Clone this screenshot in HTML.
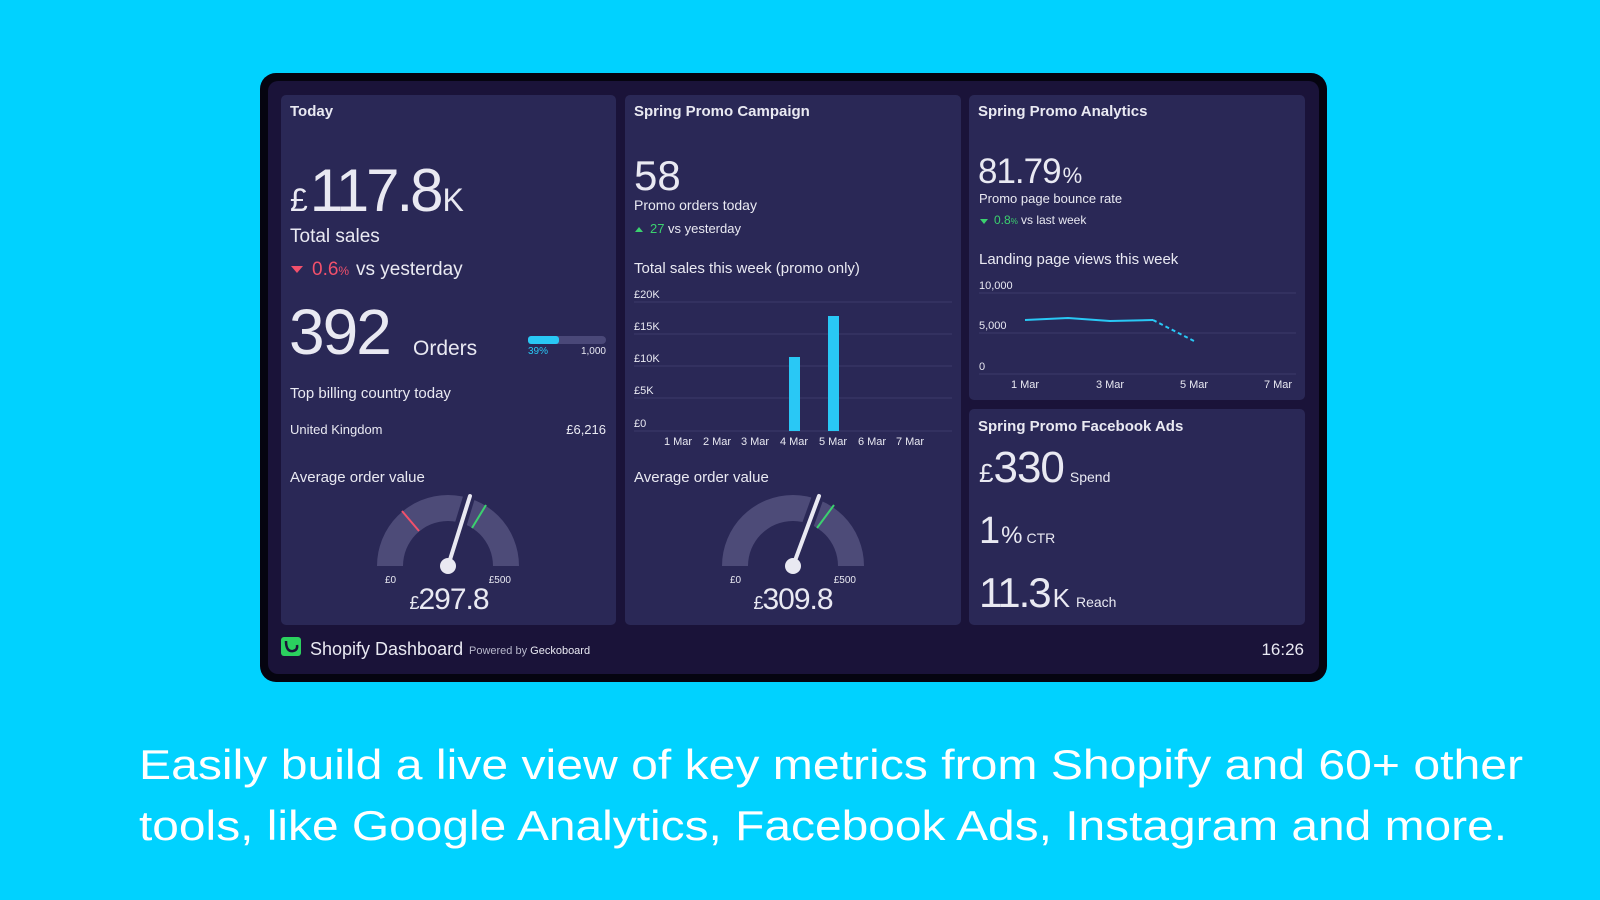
<!DOCTYPE html>
<html><head><meta charset="utf-8"><style>
html,body{margin:0;padding:0;background:#00d2ff;}
svg{display:block}
text{font-family:"Liberation Sans",sans-serif;fill:#e9e9f2}
</style></head><body>
<svg width="1600" height="900" viewBox="0 0 1600 900" xmlns="http://www.w3.org/2000/svg">
<rect width="1600" height="900" fill="#00d2ff"/>
<rect x="260" y="73" width="1067" height="609" rx="16" fill="#050410"/>
<rect x="268" y="81" width="1051" height="593" rx="10" fill="#1a1339"/>
<g fill="#2a2856">
<rect x="281" y="95" width="335" height="530" rx="5"/>
<rect x="625" y="95" width="336" height="530" rx="5"/>
<rect x="969" y="95" width="336" height="305" rx="5"/>
<rect x="969" y="409" width="336" height="216" rx="5"/>
</g>
<!-- Panel 1 -->
<text x="290" y="116" font-size="15" font-weight="bold">Today</text>
<text x="290" y="211" font-size="60" letter-spacing="-3"><tspan font-size="32" letter-spacing="0">£</tspan><tspan dx="2">117.8</tspan><tspan font-size="32" letter-spacing="0" dx="2">K</tspan></text>
<text x="290" y="242" font-size="19">Total sales</text>
<path d="M291 266 L303 266 L297 273 Z" fill="#f2506b"/>
<text x="312" y="275" font-size="19" style="fill:#f2506b">0.6<tspan font-size="12">%</tspan></text>
<text x="356" y="275" font-size="19">vs yesterday</text>
<text x="289" y="354" font-size="64" letter-spacing="-2">392</text>
<text x="413" y="355" font-size="21">Orders</text>
<rect x="528" y="336" width="78" height="8" rx="4" fill="#4a4878"/>
<rect x="528" y="336" width="31" height="8" rx="3" fill="#29c8f5"/>
<text x="528" y="354" font-size="10" style="fill:#29c8f5">39%</text>
<text x="606" y="354" font-size="10" text-anchor="end">1,000</text>
<text x="290" y="398" font-size="15">Top billing country today</text>
<text x="290" y="434" font-size="13">United Kingdom</text>
<text x="606" y="434" font-size="13" text-anchor="end">£6,216</text>
<text x="290" y="482" font-size="15">Average order value</text>
<g transform="translate(448,566)">
<path d="M-71 0 A71 71 0 0 1 71 0 L45 0 A45 45 0 0 0 -45 0 Z" fill="#4d4b78"/>
<line x1="-29" y1="-35" x2="-46" y2="-55" stroke="#f2506b" stroke-width="2"/>
<line x1="24" y1="-38" x2="38" y2="-61" stroke="#3bd16f" stroke-width="2"/>
<line x1="0" y1="0" x2="22" y2="-72" stroke="#2a2856" stroke-width="12"/>
<line x1="0" y1="0" x2="22" y2="-70" stroke="#e9e9f2" stroke-width="4" stroke-linecap="round"/>
<circle r="8" fill="#e9e9f2"/>
<text x="-63" y="17" font-size="10">£0</text>
<text x="63" y="17" font-size="10" text-anchor="end">£500</text>
<text x="1" y="43" font-size="30" text-anchor="middle" letter-spacing="-1"><tspan font-size="18">£</tspan>297.8</text>
</g>
<!-- Panel 2 -->
<text x="634" y="116" font-size="15" font-weight="bold">Spring Promo Campaign</text>
<text x="634" y="190" font-size="42">58</text>
<text x="634" y="210" font-size="14">Promo orders today</text>
<path d="M635 232 L643 232 L639 227 Z" fill="#3bd16f"/>
<text x="650" y="233" font-size="13" style="fill:#3bd16f">27</text>
<text x="668" y="233" font-size="13">vs yesterday</text>
<text x="634" y="273" font-size="15">Total sales this week (promo only)</text>
<g stroke="#3c3a6a" stroke-width="1">
<line x1="634" y1="302" x2="952" y2="302"/><line x1="634" y1="334" x2="952" y2="334"/>
<line x1="634" y1="366" x2="952" y2="366"/><line x1="634" y1="398" x2="952" y2="398"/>
<line x1="634" y1="431" x2="952" y2="431"/>
</g>
<g font-size="11">
<text x="634" y="298">£20K</text><text x="634" y="330">£15K</text><text x="634" y="362">£10K</text>
<text x="634" y="394">£5K</text><text x="634" y="427">£0</text>
</g>
<rect x="789" y="357" width="11" height="74" fill="#29c8f5"/>
<rect x="828" y="316" width="11" height="115" fill="#29c8f5"/>
<g font-size="11" text-anchor="middle">
<text x="678" y="445">1 Mar</text><text x="717" y="445">2 Mar</text><text x="755" y="445">3 Mar</text>
<text x="794" y="445">4 Mar</text><text x="833" y="445">5 Mar</text><text x="872" y="445">6 Mar</text><text x="910" y="445">7 Mar</text>
</g>
<text x="634" y="482" font-size="15">Average order value</text>
<g transform="translate(793,566)">
<path d="M-71 0 A71 71 0 0 1 71 0 L45 0 A45 45 0 0 0 -45 0 Z" fill="#4d4b78"/>
<line x1="24" y1="-38" x2="41" y2="-61" stroke="#3bd16f" stroke-width="2"/>
<line x1="0" y1="0" x2="26" y2="-72" stroke="#2a2856" stroke-width="12"/>
<line x1="0" y1="0" x2="26" y2="-70" stroke="#e9e9f2" stroke-width="4" stroke-linecap="round"/>
<circle r="8" fill="#e9e9f2"/>
<text x="-63" y="17" font-size="10">£0</text>
<text x="63" y="17" font-size="10" text-anchor="end">£500</text>
<text x="0" y="43" font-size="30" text-anchor="middle" letter-spacing="-1"><tspan font-size="18">£</tspan>309.8</text>
</g>
<!-- Panel 3 -->
<text x="978" y="116" font-size="15" font-weight="bold">Spring Promo Analytics</text>
<text x="978" y="183" font-size="35" letter-spacing="-1">81.79<tspan font-size="22" dx="2">%</tspan></text>
<text x="979" y="203" font-size="13">Promo page bounce rate</text>
<path d="M980 219 L988 219 L984 224 Z" fill="#3bd16f"/>
<text x="994" y="224" font-size="12" style="fill:#3bd16f">0.8<tspan font-size="8">%</tspan></text>
<text x="1021" y="224" font-size="12">vs last week</text>
<text x="979" y="264" font-size="15">Landing page views this week</text>
<g stroke="#3c3a6a" stroke-width="1">
<line x1="979" y1="293" x2="1296" y2="293"/><line x1="979" y1="333" x2="1296" y2="333"/><line x1="979" y1="374" x2="1296" y2="374"/>
</g>
<g font-size="11">
<text x="979" y="289">10,000</text><text x="979" y="329">5,000</text><text x="979" y="370">0</text>
</g>
<polyline points="1025,320 1068,318 1110,321 1153,320" fill="none" stroke="#29c8f5" stroke-width="2"/>
<line x1="1153" y1="320" x2="1194" y2="341" stroke="#29c8f5" stroke-width="2" stroke-dasharray="4,3"/>
<g font-size="11" text-anchor="middle">
<text x="1025" y="388">1 Mar</text><text x="1110" y="388">3 Mar</text><text x="1194" y="388">5 Mar</text><text x="1278" y="388">7 Mar</text>
</g>
<!-- Panel 4 -->
<text x="978" y="431" font-size="15" font-weight="bold">Spring Promo Facebook Ads</text>
<text x="979" y="482" font-size="44" letter-spacing="-1"><tspan font-size="26" letter-spacing="0">£</tspan>330<tspan font-size="14" letter-spacing="0" dx="6">Spend</tspan></text>
<text x="979" y="543" font-size="38"><tspan>1</tspan><tspan font-size="24" dx="1">%</tspan><tspan font-size="14" dx="4">CTR</tspan></text>
<text x="979" y="607" font-size="42" letter-spacing="-2">11.3<tspan font-size="26" letter-spacing="0" dx="3">K</tspan><tspan font-size="14" letter-spacing="0" dx="6">Reach</tspan></text>
<!-- footer -->
<rect x="281" y="637" width="20" height="19" rx="3" fill="#2bd15f"/>
<path d="M286 641 Q286 652 293 651 Q298 650 297 645" fill="none" stroke="#1a1339" stroke-width="2.5"/>
<text x="310" y="655" font-size="18">Shopify Dashboard</text>
<text x="469" y="654" font-size="11" style="fill:#b8b8cc">Powered by <tspan style="fill:#e9e9f2">Geckoboard</tspan></text>
<text x="1304" y="655" font-size="17" text-anchor="end">16:26</text>
<!-- caption -->
<text x="139" y="779" font-size="42" textLength="1384" lengthAdjust="spacingAndGlyphs" style="fill:#ffffff">Easily build a live view of key metrics from Shopify and 60+ other</text>
<text x="139" y="840" font-size="42" textLength="1368" lengthAdjust="spacingAndGlyphs" style="fill:#ffffff">tools, like Google Analytics, Facebook Ads, Instagram and more.</text>
</svg>
</body></html>
